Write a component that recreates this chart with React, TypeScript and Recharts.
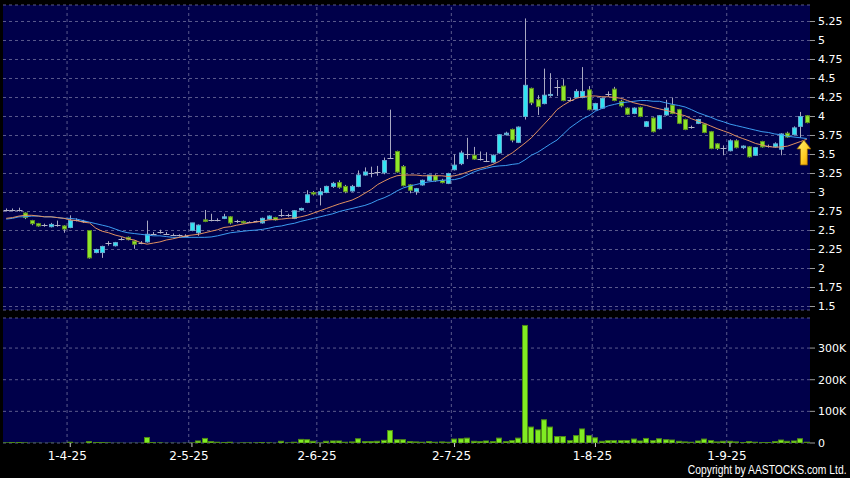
import React from 'react';
import { ComposedChart, Bar, Line, XAxis, YAxis, CartesianGrid, ReferenceLine, ReferenceDot } from 'recharts';

const openP = [2.77,2.77,2.77,2.73,2.63,2.59,2.57,2.55,2.57,2.56,
 2.54,2.64,2.62,2.50,2.21,2.21,2.33,2.30,2.39,2.41,
 2.36,2.34,2.35,2.46,2.48,2.46,2.44,2.44,2.43,2.50,
 2.47,2.64,2.64,2.64,2.66,2.68,2.62,2.62,2.61,2.62,
 2.60,2.65,2.67,2.70,2.70,2.66,2.77,2.87,3.00,2.97,
 3.00,3.08,3.13,3.08,3.02,3.08,3.23,3.26,3.27,3.26,
 3.46,3.54,3.34,3.10,3.01,3.10,3.16,3.22,3.16,3.12,
 3.30,3.38,3.51,3.49,3.44,3.42,3.40,3.52,3.76,3.83,
 3.66,4.00,4.37,4.22,4.17,4.28,4.39,4.40,4.22,4.25,
 4.25,4.35,4.09,4.11,4.30,4.36,4.20,4.11,4.04,4.12,
 3.87,3.98,3.84,4.02,4.15,4.09,3.96,3.86,3.91,3.90,
 3.80,3.64,3.58,3.55,3.68,3.59,3.60,3.49,3.67,3.61,
 3.60,3.57,3.78,3.76,3.87,4.01];

const highP = [2.79,2.79,2.80,2.74,2.64,2.60,2.59,2.60,2.63,2.57,
 2.70,2.66,2.64,2.50,2.26,2.30,2.36,2.35,2.41,2.42,
 2.37,2.36,2.63,2.48,2.51,2.48,2.46,2.45,2.45,2.60,
 2.58,2.77,2.72,2.66,2.72,2.69,2.64,2.63,2.62,2.63,
 2.67,2.70,2.68,2.78,2.72,2.77,2.80,3.03,3.02,3.06,
 3.09,3.14,3.16,3.10,3.10,3.29,3.33,3.34,3.35,3.46,
 4.09,3.55,3.36,3.11,3.06,3.17,3.23,3.24,3.18,3.26,
 3.50,3.55,3.72,3.60,3.54,3.53,3.50,3.77,3.80,3.84,
 3.87,5.29,4.38,4.28,4.63,4.57,4.48,4.49,4.25,4.36,
 4.65,4.40,4.18,4.25,4.33,4.39,4.22,4.12,4.12,4.13,
 3.94,3.99,4.02,4.22,4.25,4.10,3.97,3.88,3.97,3.91,
 3.81,3.65,3.62,3.70,3.70,3.62,3.61,3.60,3.68,3.63,
 3.66,3.78,3.80,3.87,4.06,4.02];

const lowP = [2.75,2.75,2.75,2.65,2.57,2.55,2.55,2.54,2.55,2.47,
 2.53,2.62,2.60,2.13,2.20,2.14,2.30,2.29,2.37,2.37,
 2.26,2.32,2.34,2.44,2.46,2.44,2.43,2.42,2.41,2.49,
 2.43,2.61,2.62,2.62,2.65,2.58,2.60,2.59,2.60,2.61,
 2.59,2.64,2.63,2.68,2.68,2.65,2.76,2.86,2.96,2.83,
 2.99,3.06,3.05,2.99,3.01,3.07,3.22,3.20,3.22,3.24,
 3.44,3.26,3.08,2.99,2.97,3.09,3.15,3.14,3.12,3.11,
 3.29,3.36,3.44,3.43,3.42,3.40,3.39,3.51,3.75,3.66,
 3.65,3.96,4.15,4.02,4.16,4.26,4.27,4.20,4.20,4.24,
 4.24,4.08,4.08,4.10,4.26,4.20,4.12,4.02,4.03,3.99,
 3.86,3.79,3.83,4.01,4.03,3.90,3.82,3.84,3.90,3.78,
 3.57,3.56,3.49,3.54,3.58,3.57,3.46,3.48,3.59,3.59,
 3.59,3.49,3.72,3.75,3.72,3.91];

const closeP = [2.77,2.77,2.77,2.67,2.59,2.56,2.57,2.58,2.57,2.52,
 2.63,2.64,2.62,2.14,2.25,2.29,2.33,2.34,2.39,2.38,
 2.32,2.34,2.45,2.46,2.48,2.46,2.44,2.44,2.43,2.60,
 2.57,2.62,2.64,2.64,2.68,2.60,2.62,2.60,2.61,2.62,
 2.66,2.69,2.64,2.70,2.70,2.76,2.79,2.97,2.98,3.01,
 3.08,3.12,3.07,3.01,3.08,3.23,3.27,3.26,3.27,3.42,
 3.46,3.27,3.09,3.03,3.05,3.16,3.23,3.16,3.13,3.25,
 3.36,3.52,3.51,3.44,3.44,3.42,3.49,3.76,3.78,3.69,
 3.86,4.41,4.18,4.13,4.28,4.29,4.39,4.21,4.22,4.33,
 4.33,4.09,4.17,4.24,4.30,4.21,4.14,4.03,4.11,4.00,
 3.93,3.80,4.01,4.11,4.04,3.91,3.83,3.86,3.96,3.79,
 3.58,3.58,3.58,3.68,3.59,3.61,3.47,3.59,3.60,3.61,
 3.64,3.77,3.73,3.85,4.00,3.92];

const ma10 = [2.66,2.67,2.69,2.70,2.70,2.69,2.68,2.68,2.67,2.66,
 2.64,2.63,2.61,2.60,2.53,2.49,2.47,2.44,2.42,2.39,
 2.375,2.34,2.32,2.335,2.35,2.375,2.39,2.41,2.43,2.44,
 2.45,2.47,2.49,2.51,2.54,2.55,2.57,2.585,2.60,2.61,
 2.625,2.64,2.645,2.65,2.66,2.665,2.68,2.70,2.73,2.76,
 2.79,2.82,2.85,2.875,2.90,2.94,2.99,3.04,3.105,3.15,
 3.19,3.22,3.23,3.23,3.23,3.22,3.22,3.22,3.22,3.21,
 3.22,3.24,3.27,3.30,3.32,3.34,3.37,3.41,3.47,3.52,
 3.585,3.65,3.72,3.81,3.90,3.99,4.09,4.15,4.20,4.24,
 4.26,4.27,4.27,4.26,4.26,4.25,4.24,4.21,4.18,4.16,
 4.145,4.12,4.10,4.08,4.06,4.03,4.01,3.97,3.94,3.91,
 3.875,3.84,3.81,3.78,3.74,3.71,3.68,3.645,3.625,3.605,
 3.595,3.60,3.61,3.64,3.67,3.70];

const ma20 = [2.65,2.66,2.68,2.68,2.69,2.69,2.68,2.68,2.67,2.66,
 2.66,2.65,2.63,2.61,2.59,2.57,2.55,2.52,2.49,2.47,
 2.46,2.45,2.44,2.43,2.43,2.42,2.41,2.41,2.41,2.41,
 2.41,2.41,2.415,2.43,2.45,2.47,2.48,2.49,2.50,2.505,
 2.515,2.53,2.55,2.56,2.58,2.595,2.62,2.64,2.66,2.68,
 2.70,2.72,2.75,2.77,2.79,2.81,2.83,2.86,2.90,2.93,
 2.97,3.02,3.06,3.085,3.105,3.125,3.14,3.15,3.16,3.165,
 3.17,3.19,3.23,3.27,3.30,3.32,3.34,3.35,3.355,3.37,
 3.38,3.43,3.49,3.53,3.585,3.64,3.69,3.77,3.85,3.91,
 3.97,4.01,4.07,4.105,4.14,4.16,4.18,4.19,4.20,4.21,
 4.21,4.20,4.20,4.18,4.16,4.145,4.125,4.09,4.05,4.02,
 3.99,3.955,3.93,3.90,3.88,3.86,3.84,3.82,3.80,3.79,
 3.77,3.76,3.74,3.73,3.72,3.71];

const volumeK = [2,3,3,2,1,1,0.5,1,0.5,1,
 4,1,1,6,3,3,2,1,1,0.5,
 1,1,19,3,2,1,1,0.5,1,2,
 8,16,6,4,3,4,1,2,2,2,
 3,2,1,7,2,4,13,12,7,2,
 7,8,8,4,5,15,6,6,7,10,
 41,12,12,6,5,4,6,4,5,4,
 14,15,17,7,6,8,6,17,6,9,
 17,373,52,43,75,52,22,22,9,25,
 46,25,18,7,9,9,9,9,14,8,
 16,9,15,12,11,7,5,4,8,14,
 9,5,7,7,5,3,6,4,3,3,
 6,11,7,8,15,4];

const monthTickIdx = [10, 29, 49, 70, 92, 113];
const monthTickLabels = ['1-4-25', '2-5-25', '2-6-25', '2-7-25', '1-8-25', '1-9-25'];
const priceTicks = [1.5, 1.75, 2, 2.25, 2.5, 2.75, 3, 3.25, 3.5, 3.75, 4, 4.25, 4.5, 4.75, 5, 5.25];
const volumeTicks = [0, 100000, 200000, 300000];
const priceDomain = [1.454, 5.467];
const volumeDomain = [0, 395000];
const arrowAt = { i: 124, price: 3.52 };
const copyrightText = 'Copyright by AASTOCKS.com Ltd.';

const data = openP.map((o, i) => ({
  i,
  open: o,
  high: highP[i],
  low: lowP[i],
  close: closeP[i],
  ma10: ma10[i],
  ma20: ma20[i],
  vol: volumeK[i] * 1000,
}));

const PLOT_BG = '#00004a';
const GRID = '#5a5a8c';
const FONT = 'DejaVu Sans';

const Candle = (props: any) => {
  const { x, y, width, height, payload } = props;
  if (!payload || !isFinite(y) || !isFinite(height)) return null;
  const { open, close, high, low } = payload;
  const span = high - low || 1;
  const toY = (p: number) => y + ((high - p) / span) * height;
  const cx = Math.floor(x + width / 2) + 0.5;
  const yo = toY(open);
  const yc = toY(close);
  const top = Math.min(yo, yc);
  const bot = Math.max(yo, yc);
  const left = Math.round(x);
  const wick = '#a9a9c2';
  let body: React.ReactNode;
  if (close > open) {
    body = <rect x={left + 0.5} y={top} width={width - 1} height={Math.max(bot - top, 1)} fill="#30e4f2" stroke="#68a8d0" strokeWidth={1} />;
  } else if (close < open) {
    body = <rect x={left + 0.5} y={top} width={width - 1} height={Math.max(bot - top, 1)} fill="#8ee62a" stroke="#5f8f20" strokeWidth={1} />;
  } else {
    const yy = Math.round(yo) + 0.5;
    body = <line x1={left - 0.5} x2={left + width + 0.5} y1={yy} y2={yy} stroke="#b4b4c8" strokeWidth={1} />;
  }
  return (
    <g>
      <line x1={cx} x2={cx} y1={y} y2={y + height} stroke={wick} strokeWidth={1} />
      {body}
    </g>
  );
};

const VolBar = (props: any) => {
  const { x, y, width, height } = props;
  if (!isFinite(y) || !isFinite(height) || height <= 0) return null;
  return <rect x={Math.round(x) + 0.5} y={y + 0.5} width={width - 1} height={Math.max(height - 0.5, 0.5)} fill="#80ec22" stroke="#4e8a16" strokeWidth={1} />;
};

const ArrowMark = (props: any) => {
  const { cx, cy } = props;
  if (!isFinite(cx) || !isFinite(cy)) return null;
  const x = cx + 3.5;
  const d = `M${x},${cy - 13} L${x + 7},${cy - 4} L${x + 3.5},${cy - 4} L${x + 3.5},${cy + 12} L${x - 3.5},${cy + 12} L${x - 3.5},${cy - 4} L${x - 7},${cy - 4} Z`;
  return (
    <g>
      <defs>
        <linearGradient id="arrowGrad" x1="0" y1="0" x2="1" y2="1">
          <stop offset="0" stopColor="#fff27a" />
          <stop offset="0.6" stopColor="#ffcc22" />
          <stop offset="1" stopColor="#e89400" />
        </linearGradient>
      </defs>
      <path d={d} fill="url(#arrowGrad)" stroke="#8a5a00" strokeWidth={0.8} />
    </g>
  );
};

const MonthTick = (props: any) => {
  const { x, y, payload } = props;
  const k = monthTickIdx.indexOf(payload.value);
  return (
    <text x={x - 3} y={y + 2} dy="0.71em" textAnchor="middle" fill="#ffffff" fontSize={12} fontFamily={FONT}>
      {k >= 0 ? monthTickLabels[k] : ''}
    </text>
  );
};

const fmtPrice = (v: number) => String(v);
const fmtVol = (v: number) => (v === 0 ? '0' : `${v / 1000}K`);

export default function App() {
  const gridLines = monthTickIdx.map((m) => (
    <ReferenceLine key={m} x={m} position="start" stroke={GRID} strokeDasharray="3 3" ifOverflow="visible" />
  ));
  return (
    <div style={{ position: 'absolute', left: 0, top: 0, width: 850, height: 478, background: '#000', overflow: 'hidden' }}>
      <div style={{ position: 'absolute', left: 0, top: 0 }}>
        <ComposedChart width={850} height={315} data={data} margin={{ top: 5, right: 3, bottom: 5, left: 3 }}>
          <CartesianGrid vertical={false} stroke={GRID} strokeDasharray="3 3" fill={PLOT_BG} />
          <XAxis dataKey="i" type="category" hide />
          <YAxis
            orientation="right"
            width={37}
            type="number"
            domain={priceDomain}
            allowDataOverflow
            ticks={priceTicks}
            interval={0}
            tickFormatter={fmtPrice}
            axisLine={false}
            tickLine={{ stroke: '#9a9a9a' }}
            tickSize={5}
            tickMargin={3}
            tick={{ fill: '#ffffff', fontSize: 11, fontFamily: FONT }}
          />
          {gridLines}
          <Line dataKey="ma20" stroke="#3c9cf0" strokeWidth={1} dot={false} isAnimationActive={false} />
          <Line dataKey="ma10" stroke="#e09060" strokeWidth={1} dot={false} isAnimationActive={false} />
          <Bar dataKey={(d: any) => [d.low, d.high]} barSize={5} shape={Candle} isAnimationActive={false} />
          <ReferenceDot x={arrowAt.i} y={arrowAt.price} shape={ArrowMark} ifOverflow="visible" />
        </ComposedChart>
      </div>
      <div style={{ position: 'absolute', left: 0, top: 310 }}>
        <ComposedChart width={850} height={168} data={data} margin={{ top: 8, right: 3, bottom: 5, left: 3 }}>
          <CartesianGrid vertical={false} stroke={GRID} strokeDasharray="3 3" fill={PLOT_BG} />
          <XAxis
            dataKey="i"
            type="category"
            ticks={monthTickIdx}
            interval={0}
            height={30}
            axisLine={false}
            tickLine={{ stroke: '#cccccc' }}
            tickSize={4}
            tick={MonthTick}
          />
          <YAxis
            orientation="right"
            width={37}
            type="number"
            domain={volumeDomain}
            allowDataOverflow
            ticks={volumeTicks}
            interval={0}
            tickFormatter={fmtVol}
            axisLine={false}
            tickLine={{ stroke: '#9a9a9a' }}
            tickSize={5}
            tickMargin={3}
            tick={{ fill: '#ffffff', fontSize: 11, fontFamily: FONT }}
          />
          {gridLines}
          <Bar dataKey="vol" barSize={6} shape={VolBar} isAnimationActive={false} />
        </ComposedChart>
      </div>
      <div
        style={{
          position: 'absolute',
          right: 3,
          top: 464,
          color: '#ffffff',
          fontFamily: '"Liberation Sans", Arial, sans-serif',
          fontSize: 12,
          lineHeight: '13px',
          whiteSpace: 'nowrap',
          transform: 'scaleX(0.86)',
          transformOrigin: 'right center',
        }}
      >
        {copyrightText}
      </div>
    </div>
  );
}
